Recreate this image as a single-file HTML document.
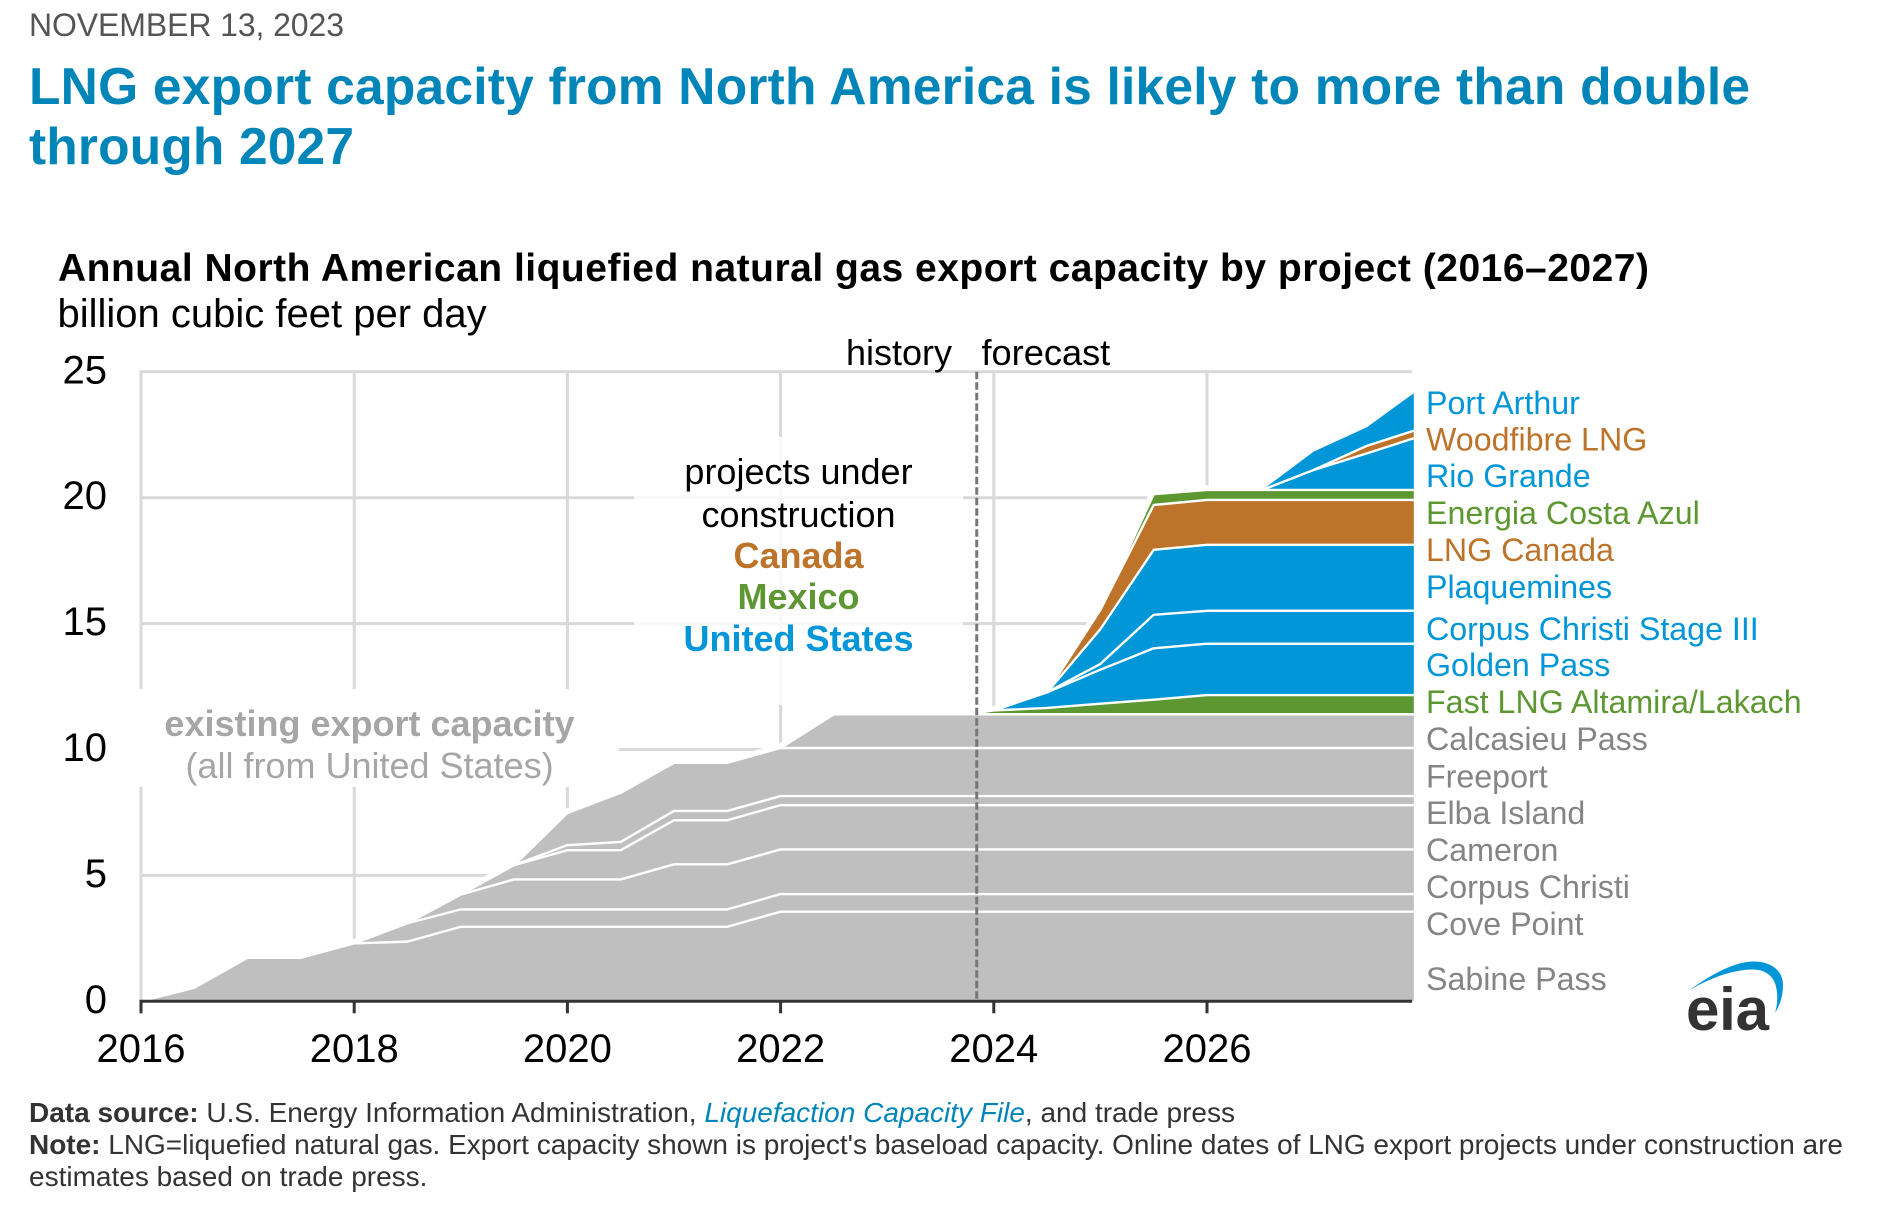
<!DOCTYPE html>
<html lang="en">
<head>
<meta charset="utf-8">
<title>LNG export capacity from North America</title>
<style>
html,body{margin:0;padding:0;background:#fff;}
body{width:1883px;height:1228px;overflow:hidden;font-family:"Liberation Sans",Arial,sans-serif;}
svg{display:block;}
text{font-family:"Liberation Sans",Arial,sans-serif;}
</style>
</head>
<body>
<svg id="chart" xmlns="http://www.w3.org/2000/svg" width="1883" height="1228" viewBox="0 0 1883 1228">
  <rect x="0" y="0" width="1883" height="1228" fill="#fff"/>
  <text x="29" y="36" font-size="32" fill="#555" textLength="315">NOVEMBER 13, 2023</text>
  <text x="29" y="104" font-size="51.5" font-weight="700" fill="#0085b9" textLength="1721">LNG export capacity from North America is likely to more than double</text>
  <text x="29" y="164" font-size="51.5" font-weight="700" fill="#0085b9" textLength="325">through 2027</text>
  <text x="58" y="281" font-size="39" font-weight="700" fill="#000" textLength="1591">Annual North American liquefied natural gas export capacity by project (2016–2027)</text>
  <text x="57.5" y="327" font-size="40" fill="#000">billion cubic feet per day</text>
  <g id="grid"></g>
  <rect x="130" y="689" width="489" height="98" fill="#fff"/>
  <rect x="634" y="437" width="329" height="268" fill="#fff" fill-opacity="0.82"/>
  <g id="areas"></g>
  <g id="axes"></g>
  <g id="labels"></g>
  <text x="952" y="365" font-size="36" fill="#000" text-anchor="end">history</text>
  <text x="981.5" y="365" font-size="36.2" fill="#000">forecast</text>
  <g text-anchor="middle" font-size="36">
    <text x="798.5" y="484" fill="#000">projects under</text>
    <text x="798.5" y="527" fill="#000">construction</text>
    <text x="798.5" y="568" fill="#bd732a" font-weight="700">Canada</text>
    <text x="798.5" y="609" fill="#5d9732" font-weight="700">Mexico</text>
    <text x="798.5" y="651" fill="#0096d7" font-weight="700">United States</text>
  </g>
  <g text-anchor="middle" font-size="36" fill="#a6a6a6">
    <text x="369.5" y="736" font-weight="700">existing export capacity</text>
    <text x="369.5" y="778">(all from United States)</text>
  </g>
  <g>
    <path d="M1688 991C1712 974 1735 961 1755 961.5C1773 962 1783 972 1783 985C1783 996 1780 1005 1775 1013C1778 1003 1778 992 1775 983C1771 973 1762 969 1750 969.5C1730 970.5 1708 979 1688 991Z" fill="#0096d7"/>
    <text x="1686" y="1030" font-size="60" font-weight="700" fill="#333" textLength="83">eia</text>
  </g>
  <g font-size="28" fill="#333">
    <text x="29" y="1122" textLength="1206"><tspan font-weight="700">Data source:</tspan> U.S. Energy Information Administration, <tspan font-style="italic" fill="#0085b9">Liquefaction Capacity File</tspan>, and trade press</text>
    <text x="29" y="1154" textLength="1814"><tspan font-weight="700">Note:</tspan> LNG=liquefied natural gas. Export capacity shown is project's baseload capacity. Online dates of LNG export projects under construction are</text>
    <text x="29" y="1186">estimates based on trade press.</text>
  </g>
</svg>
<script>
const dates = [2016,2016.5,2017,2017.5,2018,2018.5,2019,2019.5,2020,2020.5,2021,2021.5,2022,2022.5,2023,2023.5,2023.75,2024,2024.5,2025,2025.5,2026,2026.52,2027,2027.5,2027.94];
const sabinePass    = [0,0.54,1.73,1.73,2.30,2.37,2.96,2.96,2.96,2.96,2.96,2.96,3.56,3.56,3.56,3.56,3.56,3.56,3.56,3.56,3.56,3.56,3.56,3.56,3.56,3.56];
const covePoint     = [0,0,0,0,0,0.73,0.69,0.69,0.69,0.69,0.69,0.69,0.70,0.70,0.70,0.70,0.70,0.70,0.70,0.70,0.70,0.70,0.70,0.70,0.70,0.70];
const corpusChristi = [0,0,0,0,0,0,0.59,1.19,1.19,1.19,1.79,1.79,1.77,1.77,1.77,1.77,1.77,1.77,1.77,1.77,1.77,1.77,1.77,1.77,1.77,1.77];
const cameron       = [0,0,0,0,0,0,0,0.57,1.16,1.16,1.75,1.75,1.76,1.76,1.76,1.76,1.76,1.76,1.76,1.76,1.76,1.76,1.76,1.76,1.76,1.76];
const elbaIsland    = [0,0,0,0,0,0,0,0,0.20,0.33,0.37,0.37,0.36,0.36,0.36,0.36,0.36,0.36,0.36,0.36,0.36,0.36,0.36,0.36,0.36,0.36];
const freeport      = [0,0,0,0,0,0,0,0,1.28,1.95,1.91,1.91,1.91,1.91,1.91,1.91,1.91,1.91,1.91,1.91,1.91,1.91,1.91,1.91,1.91,1.91];
const calcasieuPass = [0,0,0,0,0,0,0,0,0,0,0,0,0,1.34,1.34,1.34,1.34,1.34,1.34,1.34,1.34,1.34,1.34,1.34,1.34,1.34];
const fastLng       = [0,0,0,0,0,0,0,0,0,0,0,0,0,0,0,0,0,0.15,0.25,0.42,0.58,0.76,0.76,0.76,0.76,0.76];
const goldenPass    = [0,0,0,0,0,0,0,0,0,0,0,0,0,0,0,0,0,0,0.62,1.35,2.04,2.04,2.04,2.04,2.04,2.04];
const corpusStage3  = [0,0,0,0,0,0,0,0,0,0,0,0,0,0,0,0,0,0,0,0.23,1.33,1.31,1.31,1.31,1.31,1.31];
const plaquemines   = [0,0,0,0,0,0,0,0,0,0,0,0,0,0,0,0,0,0,0,1.38,2.58,2.62,2.62,2.62,2.62,2.62];
const lngCanada     = [0,0,0,0,0,0,0,0,0,0,0,0,0,0,0,0,0,0,0,0.77,1.78,1.78,1.78,1.78,1.78,1.78];
const energiaCosta  = [0,0,0,0,0,0,0,0,0,0,0,0,0,0,0,0,0,0,0,0,0.43,0.40,0.40,0.40,0.40,0.40];
const rioGrande     = [0,0,0,0,0,0,0,0,0,0,0,0,0,0,0,0,0,0,0,0,0,0,0,0.79,1.45,2.05];
const woodfibre     = [0,0,0,0,0,0,0,0,0,0,0,0,0,0,0,0,0,0,0,0,0,0,0,0,0.30,0.30];
const portArthur    = [0,0,0,0,0,0,0,0,0,0,0,0,0,0,0,0,0,0,0,0,0,0,0,0.73,0.74,1.49];
const yTicks = [0,5,10,15,20,25];
const xTicks = [2016,2018,2020,2022,2024,2026];
const forecastStart = 2023.84;
const xDomainEnd = 2027.94;

const GREY = '#bfbfbf', BLUE = '#0096d7', BROWN = '#bd732a', GREEN = '#5d9732';
const LBL_GREY = '#858585';
const stack = [
  {name:'Sabine Pass', slug:'sabine-pass', values:sabinePass, fill:GREY, text:LBL_GREY, ly:990},
  {name:'Cove Point', slug:'cove-point', values:covePoint, fill:GREY, text:LBL_GREY, ly:935},
  {name:'Corpus Christi', slug:'corpus-christi', values:corpusChristi, fill:GREY, text:LBL_GREY, ly:898},
  {name:'Cameron', slug:'cameron', values:cameron, fill:GREY, text:LBL_GREY, ly:861},
  {name:'Elba Island', slug:'elba-island', values:elbaIsland, fill:GREY, text:LBL_GREY, ly:824},
  {name:'Freeport', slug:'freeport', values:freeport, fill:GREY, text:LBL_GREY, ly:787.5},
  {name:'Calcasieu Pass', slug:'calcasieu-pass', values:calcasieuPass, fill:GREY, text:LBL_GREY, ly:750},
  {name:'Fast LNG Altamira/Lakach', slug:'fast-lng', values:fastLng, fill:GREEN, text:GREEN, ly:713},
  {name:'Golden Pass', slug:'golden-pass', values:goldenPass, fill:BLUE, text:BLUE, ly:676},
  {name:'Corpus Christi Stage III', slug:'corpus-christi-stage-3', values:corpusStage3, fill:BLUE, text:BLUE, ly:640},
  {name:'Plaquemines', slug:'plaquemines', values:plaquemines, fill:BLUE, text:BLUE, ly:598},
  {name:'LNG Canada', slug:'lng-canada', values:lngCanada, fill:BROWN, text:BROWN, ly:561},
  {name:'Energia Costa Azul', slug:'energia-costa-azul', values:energiaCosta, fill:GREEN, text:GREEN, ly:524},
  {name:'Rio Grande', slug:'rio-grande', values:rioGrande, fill:BLUE, text:BLUE, ly:487},
  {name:'Woodfibre LNG', slug:'woodfibre-lng', values:woodfibre, fill:BROWN, text:BROWN, ly:450.5},
  {name:'Port Arthur', slug:'port-arthur', values:portArthur, fill:BLUE, text:BLUE, ly:414}
];

const NS = 'http://www.w3.org/2000/svg';
const X0 = 141, PX_PER_YEAR = 106.6, Y0 = 1001.3, PX_PER_UNIT = 25.18;
const xScale = function (d) { return X0 + (d - 2016) * PX_PER_YEAR; };
const yScale = function (v) { return Y0 - v * PX_PER_UNIT; };
const gridEndX = 1412;

function make(tag, attrs, parent) {
  const el = document.createElementNS(NS, tag);
  Object.keys(attrs).forEach(function (k) { el.setAttribute(k, attrs[k]); });
  parent.appendChild(el);
  return el;
}

const grid = document.getElementById('grid');
yTicks.forEach(function (t) {
  if (t === 0) return;
  const el = make('line', {x1: X0 - 1.5, x2: gridEndX, y1: yScale(t), y2: yScale(t), stroke: '#d9d9d9', 'stroke-width': 3}, grid);
  
  
});
xTicks.forEach(function (t) {
  const el = make('line', {x1: xScale(t), x2: xScale(t), y1: yScale(25), y2: Y0, stroke: '#d9d9d9', 'stroke-width': 3}, grid);
  
  
});

const areas = document.getElementById('areas');
const defs = make('defs', {}, areas);
const clip = make('clipPath', {id: 'halo-clip'}, defs);
make('rect', {x: X0 + 2, y: 300, width: 1400, height: Y0 - 300}, clip);

let running = dates.map(function () { return 0; });
const tops = [];
stack.forEach(function (s) {
  const lower = running.slice();
  const upper = running.map(function (v, i) { return v + s.values[i]; });
  tops.push({series: s, lower: lower, upper: upper});
  running = upper;
});

function pts(arr) {
  return arr.map(function (v, i) { return xScale(dates[i]).toFixed(2) + ',' + yScale(v).toFixed(2); });
}

const haloPts = pts(running).concat([xScale(xDomainEnd).toFixed(2) + ',' + Y0, X0 + ',' + Y0]).join(' ');
const halo = make('polygon', {points: haloPts, fill: '#fff', stroke: '#fff', 'stroke-width': 9, 'stroke-linejoin': 'round', 'clip-path': 'url(#halo-clip)'}, areas);



tops.forEach(function (t) {
  const poly = make('polygon', {points: pts(t.upper).concat(pts(t.lower).reverse()).join(' '), fill: t.series.fill}, areas);
  
  
});
tops.forEach(function (t, idx) {
  if (idx === tops.length - 1) return;
  const start = t.series.values.findIndex(function (v) { return v > 0; });
  const subset = pts(t.upper).slice(Math.max(0, start - 1));
  const line = make('polyline', {points: subset.join(' '), fill: 'none', stroke: '#fff', 'stroke-width': 2.4, 'stroke-linejoin': 'round'}, areas);
  
  
});

const axes = document.getElementById('axes');
const dash = make('line', {x1: xScale(forecastStart), x2: xScale(forecastStart), y1: yScale(25), y2: Y0, stroke: '#777', 'stroke-width': 3, 'stroke-dasharray': '7.5 3'}, axes);



const baseline = make('line', {x1: X0 - 1.5, x2: gridEndX, y1: Y0, y2: Y0, stroke: '#333', 'stroke-width': 3}, axes);



xTicks.forEach(function (t) {
  const tick = make('line', {x1: xScale(t), x2: xScale(t), y1: Y0, y2: Y0 + 12, stroke: '#333', 'stroke-width': 3}, axes);
  
  
  const lab = make('text', {x: xScale(t), y: 1062, 'font-size': 40, 'text-anchor': 'middle', fill: '#000'}, axes);
  lab.textContent = String(t);
  
  
});
yTicks.forEach(function (t) {
  const lab = make('text', {x: 107, y: yScale(t) + 11.5, 'font-size': 40, 'text-anchor': 'end', fill: '#000'}, axes);
  lab.textContent = String(t);
  
  
});

const labels = document.getElementById('labels');
stack.forEach(function (s) {
  const lab = make('text', {x: 1426, y: s.ly, 'font-size': 32.2, fill: s.text}, labels);
  lab.textContent = s.name;
  
  
});
</script>
</body>
</html>
